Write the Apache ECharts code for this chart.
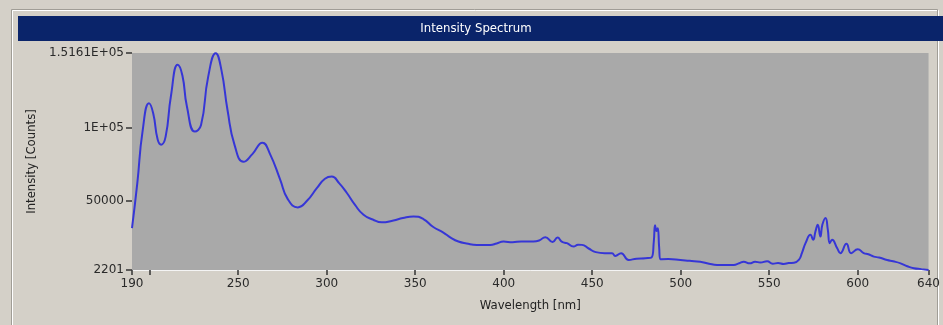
<!DOCTYPE html>
<html>
<head>
<meta charset="utf-8">
<script src="https://cdn.jsdelivr.net/npm/echarts@6/dist/echarts.min.js"></script>
<style>
  html, body { margin: 0; padding: 0; background: #d4d0c8; }
  #main { width: 943px; height: 325px; }
</style>
</head>
<body>
<div id="main"></div>
<script>
const wavelength = [
  190, 193, 196, 199.6, 202, 204.5, 206.5, 209, 212, 215.8, 218.5, 221, 225.5, 229, 233, 237.3,
  240.5, 244, 248, 253, 258, 263.7, 268, 273.7, 278, 283.7, 289, 294.4, 299, 302.9, 307, 311.4,
  316, 320.8, 326, 331, 337.7, 343, 349, 354.6, 360, 365.9, 370, 374.4, 379, 384.8, 392.4, 396,
  399.9, 405, 410, 416.8, 420, 423.5, 427.6, 430.4, 433, 435.7, 439.4, 442, 444.2, 448, 452, 457,
  461.2, 463, 466.3, 470.6, 475, 480, 483.5, 484.8, 485.5, 486.3, 487, 487.8, 488.5, 493, 499.8, 505,
  511, 516, 520.5, 529.9, 533, 535.6, 539, 542, 545, 548.8, 552, 555, 558.2, 561, 564, 566.7,
  568.5, 570.5, 573.3, 574.8, 576.1, 577.4, 578.9, 580, 581.8, 583.1, 584.2, 585.5, 588.4, 590.2, 593.6, 596.3,
  600, 603.4, 606, 609.1, 612, 616.6, 620, 624.2, 628, 631.7, 636, 640
];
const intensity = [
  31000, 62000, 98000, 117000, 110000, 92000, 88500, 94000, 122000, 143500, 136000, 115000, 97500, 102000, 135000, 151400,
  140000, 112000, 88000, 76700, 82000, 89800, 82000, 64500, 51000, 45300, 50000, 58500, 65000, 66500, 62000, 55200,
  47000, 40200, 37000, 35000, 36300, 38000, 39100, 37300, 32000, 28000, 24500, 21800, 20500, 19500, 19500, 20500,
  21800, 21300, 21900, 21800, 22500, 24800, 21400, 24500, 21500, 20700, 18300, 19600, 19500, 17000, 14500, 13800,
  13800, 11900, 13800, 9100, 10000, 10300, 10800, 22000, 33000, 29000, 31000, 18000, 9600, 9700, 9100, 8500,
  7900, 6500, 5700, 5700, 6800, 7900, 6800, 7900, 7300, 8200, 6500, 7000, 6350, 7000, 7200, 9100,
  14000, 20700, 26400, 23000, 28700, 33300, 25200, 33300, 38000, 29900, 20700, 23000, 17200, 13800, 20200, 13800,
  16500, 13800, 13000, 11400, 10800, 9100, 8200, 6800, 4800, 3400, 2800, 2201
];
const xTicks = [190, 200, 250, 300, 350, 400, 450, 500, 550, 600, 640];
const xLabels = [190, 250, 300, 350, 400, 450, 500, 550, 600, 640];
const yTicks = [2201, 50000, 100000, 151610];
const yLabelText = { 2201: '2201', 50000: '50000', 100000: '1E+05', 151610: '1.5161E+05' };

const tickFont = "'DejaVu Sans', sans-serif";
const nameFont = "'Liberation Sans Narrow', 'DejaVu Sans Condensed', sans-serif";
const chart = echarts.init(document.getElementById('main'));

const option = {
  backgroundColor: '#d4d0c8',
  animation: false,
  graphic: [
    { type: 'rect', shape: { x: 12.5, y: 10.5, width: 926, height: 320 },
      style: { fill: 'none', stroke: '#ffffff', lineWidth: 1 } },
    { type: 'rect', shape: { x: 11.5, y: 9.5, width: 926, height: 320 },
      style: { fill: 'none', stroke: '#a09d96', lineWidth: 1 } },
    { type: 'rect', shape: { x: 18, y: 16, width: 925, height: 25 },
      style: { fill: '#0a246a' } },
    { type: 'text', x: 476, y: 28.5,
      style: { text: 'Intensity Spectrum', fill: '#ffffff', font: '13px ' + nameFont,
               textAlign: 'center', textVerticalAlign: 'middle' } }
  ],
  grid: {
    left: 132, right: 14, top: 53, bottom: 55,
    show: true, backgroundColor: '#a9a9a9', borderWidth: 0
  },
  xAxis: {
    type: 'value',
    min: 190, max: 640,
    name: 'Wavelength [nm]',
    nameLocation: 'middle',
    nameGap: 29,
    nameTextStyle: { color: '#222', fontSize: 13, fontFamily: nameFont },
    axisLine: { show: true, lineStyle: { color: '#f4f4f4', width: 1 } },
    axisTick: { show: true, length: 5, customValues: xTicks, lineStyle: { color: '#333', width: 1.5 } },
    axisLabel: { customValues: xLabels, color: '#2a2a2a', fontSize: 12, fontFamily: tickFont, margin: 8 },
    splitLine: { show: false }
  },
  yAxis: {
    type: 'value',
    min: 2201, max: 151610,
    name: 'Intensity [Counts]',
    nameLocation: 'middle',
    nameGap: 94,
    nameTextStyle: { color: '#222', fontSize: 13, fontFamily: nameFont },
    axisLine: { show: false },
    axisTick: { show: true, length: 6, customValues: yTicks, lineStyle: { color: '#333', width: 1.5 } },
    axisLabel: {
      customValues: yTicks, color: '#2a2a2a', fontSize: 12, fontFamily: tickFont, margin: 8,
      formatter: v => yLabelText[Math.round(v)] || String(v)
    },
    splitLine: { show: false }
  },
  series: [{
    type: 'line',
    data: wavelength.map((w, i) => [w, intensity[i]]),
    showSymbol: false,
    smooth: 0.5,
    lineStyle: { color: '#3636d6', width: 2 },
    clip: true
  }]
};
chart.setOption(option);
</script>
</body>
</html>
